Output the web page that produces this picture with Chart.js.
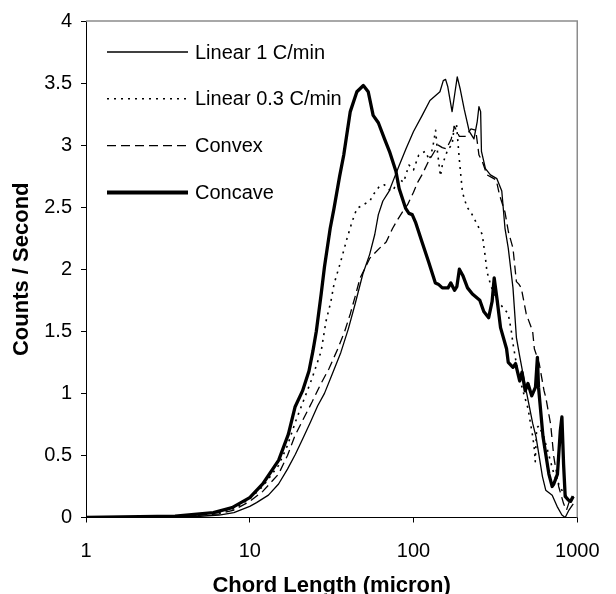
<!DOCTYPE html>
<html>
<head>
<meta charset="utf-8">
<script src="https://cdn.jsdelivr.net/npm/chart.js@4.4.1/dist/chart.umd.min.js"></script>
<style>
  html, body { margin: 0; padding: 0; background: #fff; }
  #chart { display: block; }
</style>
</head>
<body>
<canvas id="chart" width="616" height="594"></canvas>
<script>
// series labels
var seriesNames = ['Linear 1 C/min', 'Linear 0.3 C/min', 'Convex', 'Concave'];

// chord length (micron) / counts per second
var linear1X = [1, 3.5, 5, 6.5, 8, 10, 11, 13, 15, 17, 19, 21, 23.5, 26, 28.6, 32, 36, 40, 44, 49, 54, 58, 61, 65, 71, 76, 82, 90, 100, 113, 126, 145, 152, 157, 162, 172, 178, 185, 193, 204, 219, 234, 245, 251, 257, 260, 275, 295, 323, 346, 362, 379, 405, 425, 445, 466, 488, 534, 560, 613, 642, 703, 753, 806, 844, 890, 945];
var linear1Y = [0, 0, 0.01, 0.02, 0.04, 0.09, 0.12, 0.18, 0.27, 0.39, 0.51, 0.63, 0.77, 0.9, 1.0, 1.16, 1.33, 1.52, 1.72, 1.96, 2.12, 2.28, 2.44, 2.55, 2.63, 2.73, 2.84, 2.97, 3.11, 3.24, 3.36, 3.43, 3.52, 3.53, 3.47, 3.27, 3.40, 3.55, 3.45, 3.29, 3.11, 3.05, 3.19, 3.31, 3.27, 2.95, 2.81, 2.76, 2.73, 2.63, 2.33, 2.17, 1.85, 1.45, 1.30, 1.16, 1.02, 0.76, 0.65, 0.33, 0.22, 0.18, 0.09, 0.02, 0, 0.06, 0.11];

var linear03X = [1, 3.5, 5, 6.5, 8, 10, 12, 15, 17, 19, 21, 24, 27.3, 29.2, 31.3, 32.7, 35.9, 39.3, 42.1, 45.1, 49.4, 54.2, 56.7, 62.1, 66.5, 71.3, 74.6, 81.7, 87, 93.8, 100, 107.6, 118, 125, 131, 136.5, 140, 146, 150, 162.5, 172, 178, 183, 190, 199, 212, 224, 245, 263, 275, 281, 295, 315, 338, 379, 396, 405, 430, 466, 500, 535, 547, 554, 565, 583, 620, 656, 724, 806, 880, 950];
var linear03Y = [0, 0, 0.02, 0.04, 0.07, 0.15, 0.25, 0.42, 0.58, 0.77, 0.92, 1.12, 1.34, 1.58, 1.74, 1.88, 2.06, 2.25, 2.38, 2.49, 2.52, 2.55, 2.6, 2.67, 2.68, 2.64, 2.63, 2.73, 2.7, 2.84, 2.8, 2.92, 2.95, 2.88, 2.98, 3.12, 2.95, 2.75, 2.84, 2.97, 3.0, 3.17, 3.17, 2.9, 2.62, 2.5, 2.46, 2.36, 2.28, 2.09, 1.98, 1.88, 1.77, 1.72, 1.64, 1.5, 1.4, 1.2, 1.02, 0.88, 0.65, 0.55, 0.45, 0.72, 0.74, 0.66, 0.55, 0.34, 0.22, 0.15, 0.12];

var convexX = [1, 3.5, 5, 6.5, 8, 10, 12, 15, 17, 18.9, 21, 24, 27, 30.5, 34.5, 38, 41.1, 44, 47.2, 54.2, 62.1, 68.1, 74.6, 80, 85.5, 92, 100, 106, 112.6, 123.6, 141.6, 150, 158.8, 170, 178, 190.6, 209, 224, 240, 251, 263, 281, 300, 320, 335, 362, 380, 405, 425, 440, 455, 488, 534, 547, 586, 627, 642, 688, 719, 770, 826, 860, 905, 950];
var convexY = [0, 0, 0.02, 0.03, 0.06, 0.13, 0.21, 0.35, 0.5, 0.66, 0.78, 0.93, 1.07, 1.2, 1.36, 1.5, 1.64, 1.78, 1.93, 2.09, 2.17, 2.22, 2.33, 2.4, 2.46, 2.52, 2.62, 2.7, 2.76, 2.87, 3.0, 2.98, 2.97, 3.05, 3.15, 3.07, 3.07, 3.13, 3.12, 2.92, 2.87, 2.76, 2.74, 2.72, 2.6, 2.46, 2.3, 2.17, 1.9, 1.88, 1.85, 1.64, 1.5, 1.36, 1.24, 1.02, 0.97, 0.75, 0.49, 0.25, 0.11, 0.06, 0.15, 0.17];

var concaveX = [1, 3.5, 6, 7.8, 10, 12, 15, 17.2, 18.9, 21, 23, 24.3, 25.5, 27.3, 28.6, 31, 32.7, 35.4, 37.5, 41.1, 45.1, 49.4, 52.9, 56.7, 61, 66.5, 71.3, 78.1, 81.7, 89.6, 93.8, 98.2, 102.8, 112.7, 123.6, 136, 141.6, 150, 162.5, 169, 178, 184, 190.6, 200, 213.8, 229, 254, 268.6, 287.7, 302, 311, 325, 340, 370, 379, 405, 420, 445, 460, 481, 500, 527, 556, 571, 580, 618, 671, 703, 719, 757, 788, 806, 825, 844, 884, 910, 945];
var concaveY = [0, 0.01, 0.04, 0.08, 0.16, 0.27, 0.46, 0.67, 0.89, 1.02, 1.18, 1.34, 1.5, 1.8, 2.02, 2.33, 2.49, 2.75, 2.92, 3.27, 3.43, 3.48, 3.43, 3.24, 3.18, 3.05, 2.95, 2.79, 2.65, 2.49, 2.45, 2.44, 2.38, 2.22, 2.06, 1.89, 1.88, 1.85, 1.85, 1.89, 1.83, 1.86, 2.0, 1.95, 1.85, 1.8, 1.75, 1.66, 1.61, 1.74, 1.93, 1.74, 1.53, 1.36, 1.25, 1.21, 1.24, 1.1, 1.17, 1.02, 1.08, 0.98, 1.05, 1.29, 1.05, 0.65, 0.35, 0.25, 0.27, 0.35, 0.7, 0.81, 0.43, 0.17, 0.14, 0.13, 0.17];

// axis ticks
var xTicks = [1, 10, 100, 1000];
var yMin = 0, yMax = 4, yStep = 0.5;

var FONT = "'Liberation Sans', Arial, sans-serif";

function pts(xs, ys){
    var out = [];
    for (var i = 0; i < xs.length; i++) out.push({x: xs[i], y: ys[i]});
    return out;
}

// legend drawn inside the plot, top left
var innerLegend = {
    id: 'innerLegend',
    afterDraw: function(chart){
        var ctx = chart.ctx;
        ctx.save();
        chart.data.datasets.forEach(function(ds, i){
            var y = 52 + i * 46.8;
            ctx.beginPath();
            ctx.setLineDash(ds.borderDash || []);
            ctx.lineWidth = i === 3 ? 4 : ds.borderWidth;
            ctx.strokeStyle = '#000';
            ctx.moveTo(107, y);
            ctx.lineTo(188, y);
            ctx.stroke();
            ctx.setLineDash([]);
            ctx.fillStyle = '#000';
            ctx.font = '20px ' + FONT;
            ctx.textBaseline = 'middle';
            ctx.textAlign = 'left';
            ctx.fillText(ds.label, 195, y + 1);
        });
        ctx.restore();
    }
};

// grey top/right frame of the plot area
var plotFrame = {
    id: 'plotFrame',
    beforeDatasetsDraw: function(chart){
        var a = chart.chartArea, ctx = chart.ctx;
        ctx.save();
        ctx.strokeStyle = '#8c8c8c';
        ctx.lineWidth = 1.5;
        ctx.beginPath();
        ctx.moveTo(a.left, a.top);
        ctx.lineTo(a.right, a.top);
        ctx.lineTo(a.right, a.bottom);
        ctx.stroke();
        ctx.restore();
    }
};

new Chart(document.getElementById('chart'), {
    type: 'line',
    data: {
        datasets: [
            {label: seriesNames[0], data: pts(linear1X, linear1Y), borderColor: '#000', borderWidth: 1.3},
            {label: seriesNames[1], data: pts(linear03X, linear03Y), borderColor: '#000', borderWidth: 1.6, borderDash: [2, 5]},
            {label: seriesNames[2], data: pts(convexX, convexY), borderColor: '#000', borderWidth: 1.3, borderDash: [9, 5]},
            {label: seriesNames[3], data: pts(concaveX, concaveY), borderColor: '#000', borderWidth: 3.3}
        ]
    },
    options: {
        responsive: false,
        animation: false,
        layout: {padding: {top: 18.5, right: 27, bottom: 0, left: 0}},
        elements: {
            point: {radius: 0},
            line: {tension: 0, borderJoinStyle: 'round'}
        },
        plugins: {
            legend: {display: false},
            tooltip: {enabled: false}
        },
        scales: {
            x: {
                type: 'logarithmic',
                min: 1,
                max: 1000,
                afterBuildTicks: function(scale){
                    scale.ticks = xTicks.map(function(v){ return {value: v}; });
                },
                afterFit: function(scale){ scale.height = 76.5; },
                grid: {drawOnChartArea: false, drawTicks: true, tickLength: 5, color: '#000'},
                border: {display: true, color: '#000', width: 1},
                ticks: {
                    autoSkip: false,
                    maxRotation: 0,
                    padding: 16.5,
                    color: '#000',
                    font: {family: FONT, size: 20},
                    callback: function(v){ return String(v); }
                },
                title: {
                    display: true,
                    text: 'Chord Length (micron)',
                    color: '#000',
                    padding: 0,
                    font: {family: FONT, size: 22, weight: 'bold', lineHeight: 0.75}
                }
            },
            y: {
                min: yMin,
                max: yMax,
                afterFit: function(scale){ scale.width = 86; },
                grid: {drawOnChartArea: false, drawTicks: true, tickLength: 5, color: '#000'},
                border: {display: true, color: '#000', width: 1},
                ticks: {
                    stepSize: yStep,
                    padding: 9,
                    color: '#000',
                    font: {family: FONT, size: 20},
                    callback: function(v){ return String(v); }
                },
                title: {
                    display: true,
                    text: 'Counts / Second',
                    color: '#000',
                    padding: {top: 8.4, bottom: 0},
                    font: {family: FONT, size: 22, weight: 'bold', lineHeight: 1.2}
                }
            }
        }
    },
    plugins: [plotFrame, innerLegend]
});
</script>
</body>
</html>
